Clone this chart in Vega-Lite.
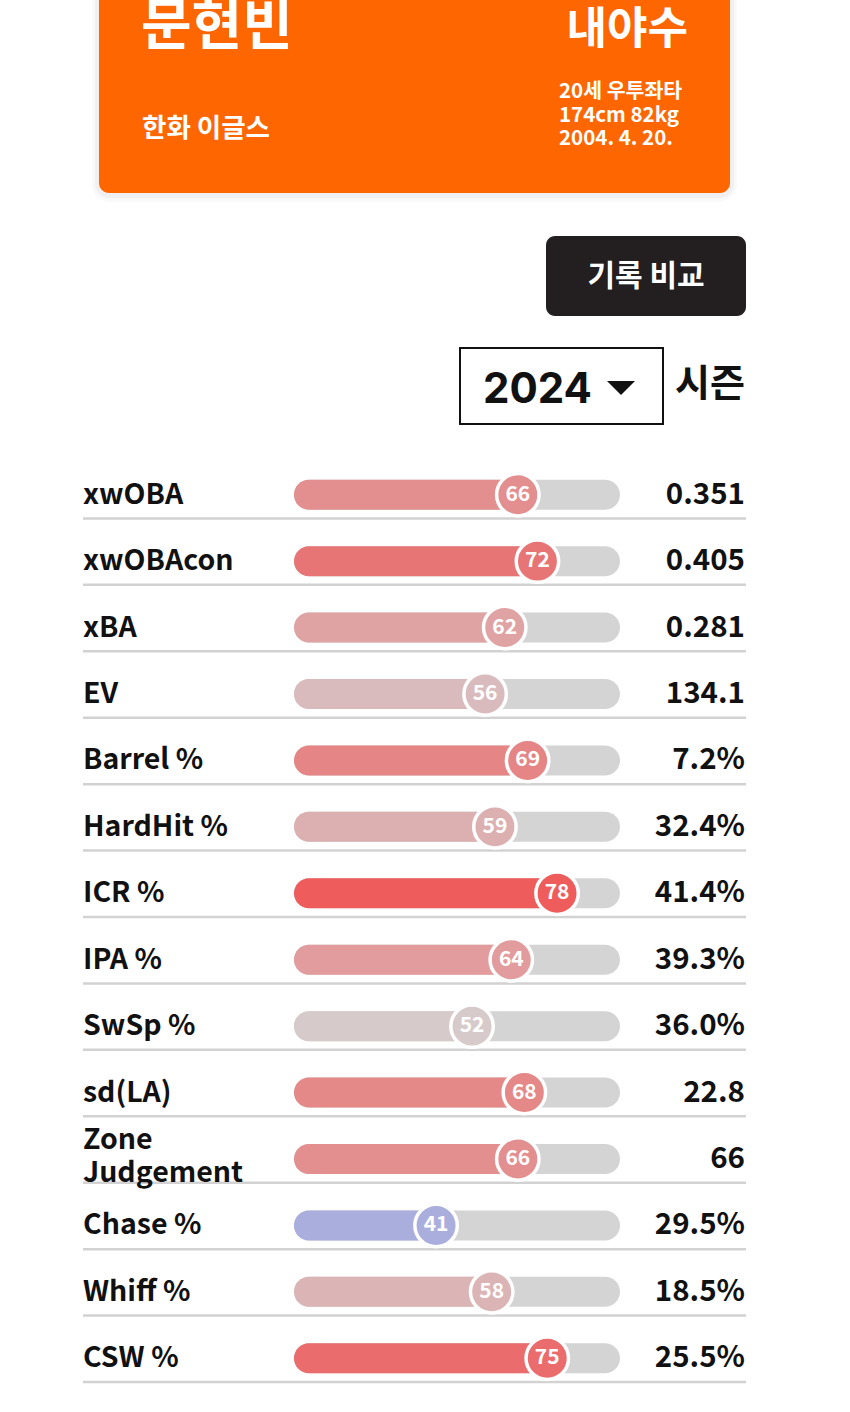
{
  "$schema": "https://vega.github.io/schema/vega-lite/v6.json",
  "background": "white",
  "padding": 0,
  "spacing": 0,
  "config": {"view": {"stroke": null}, "concat": {"spacing": 0}, "text": {"font": "Noto Sans CJK KR"}},
  "vconcat": [
    {
      "width": 850,
      "height": 452,
      "data": {"values": [{"name": "문현빈", "team": "한화 이글스", "position": "내야수", "info1": "20세 우투좌타", "info2": "174cm 82kg", "info3": "2004. 4. 20.", "button": "기록 비교", "season": "2024", "seasonLabel": "시즌"}]},
      "layer": [
        {"mark": {"type": "rect", "fill": "#000", "opacity": 0.025, "cornerRadius": 18, "clip": true},
         "encoding": {
           "x": {"datum": 92, "type": "quantitative", "scale": {"domain": [0, 850], "nice": false, "zero": false}, "axis": null},
           "x2": {"datum": 737},
           "y": {"datum": -20, "type": "quantitative", "scale": {"domain": [0, 452], "nice": false, "zero": false, "reverse": true}, "axis": null},
           "y2": {"datum": 202}}},
        {"mark": {"type": "rect", "fill": "#000", "opacity": 0.035, "cornerRadius": 14, "clip": true},
         "encoding": {"x": {"datum": 95, "type": "quantitative"}, "x2": {"datum": 734}, "y": {"datum": -20, "type": "quantitative"}, "y2": {"datum": 198}}},
        {"mark": {"type": "rect", "fill": "#FE6601", "cornerRadius": 10, "clip": true},
         "encoding": {"x": {"datum": 99, "type": "quantitative"}, "x2": {"datum": 730}, "y": {"datum": -20, "type": "quantitative"}, "y2": {"datum": 193}}},
        {"mark": {"type": "text", "fill": "white", "fontSize": 55, "fontWeight": "bold", "align": "left", "baseline": "middle", "clip": true},
         "encoding": {"text": {"field": "name", "type": "nominal"}, "x": {"datum": 141, "type": "quantitative"}, "y": {"datum": 27, "type": "quantitative"}}},
        {"mark": {"type": "text", "fill": "white", "fontSize": 26.5, "fontWeight": "bold", "align": "left", "baseline": "middle"},
         "encoding": {"text": {"field": "team", "type": "nominal"}, "x": {"datum": 142, "type": "quantitative"}, "y": {"datum": 129, "type": "quantitative"}}},
        {"mark": {"type": "text", "fill": "white", "fontSize": 44, "fontWeight": "bold", "align": "right", "baseline": "middle", "clip": true},
         "encoding": {"text": {"field": "position", "type": "nominal"}, "x": {"datum": 688, "type": "quantitative"}, "y": {"datum": 31, "type": "quantitative"}}},
        {"mark": {"type": "text", "fill": "white", "fontSize": 20.5, "fontWeight": "bold", "align": "left", "baseline": "middle"},
         "encoding": {"text": {"field": "info1", "type": "nominal"}, "x": {"datum": 559, "type": "quantitative"}, "y": {"datum": 92, "type": "quantitative"}}},
        {"mark": {"type": "text", "fill": "white", "fontSize": 20.5, "fontWeight": "bold", "align": "left", "baseline": "middle"},
         "encoding": {"text": {"field": "info2", "type": "nominal"}, "x": {"datum": 559, "type": "quantitative"}, "y": {"datum": 115.5, "type": "quantitative"}}},
        {"mark": {"type": "text", "fill": "white", "fontSize": 20.5, "fontWeight": "bold", "align": "left", "baseline": "middle"},
         "encoding": {"text": {"field": "info3", "type": "nominal"}, "x": {"datum": 559, "type": "quantitative"}, "y": {"datum": 139, "type": "quantitative"}}},
        {"mark": {"type": "rect", "fill": "#231F20", "cornerRadius": 9},
         "encoding": {"x": {"datum": 546, "type": "quantitative"}, "x2": {"datum": 746}, "y": {"datum": 236, "type": "quantitative"}, "y2": {"datum": 316}}},
        {"mark": {"type": "text", "fill": "white", "fontSize": 30, "fontWeight": "bold", "align": "center", "baseline": "middle"},
         "encoding": {"text": {"field": "button", "type": "nominal"}, "x": {"datum": 646, "type": "quantitative"}, "y": {"datum": 277, "type": "quantitative"}}},
        {"mark": {"type": "rect", "fill": "white", "stroke": "#111", "strokeWidth": 2},
         "encoding": {"x": {"datum": 460, "type": "quantitative"}, "x2": {"datum": 663}, "y": {"datum": 348, "type": "quantitative"}, "y2": {"datum": 424}}},
        {"mark": {"type": "text", "fill": "#111", "font": "Inter", "fontSize": 42, "fontWeight": "bold", "align": "left", "baseline": "middle"},
         "encoding": {"text": {"field": "season", "type": "nominal"}, "x": {"datum": 483, "type": "quantitative"}, "y": {"datum": 390, "type": "quantitative"}}},
        {"mark": {"type": "point", "shape": "M-1,-0.5L1,-0.5L0,0.5Z", "filled": true, "fill": "#111", "opacity": 1, "size": 784},
         "encoding": {"x": {"datum": 621, "type": "quantitative"}, "y": {"datum": 388, "type": "quantitative"}}},
        {"mark": {"type": "text", "fill": "#111", "fontSize": 38, "fontWeight": "bold", "align": "left", "baseline": "middle"},
         "encoding": {"text": {"field": "seasonLabel", "type": "nominal"}, "x": {"datum": 675, "type": "quantitative"}, "y": {"datum": 385, "type": "quantitative"}}}
      ]
    },
    {
      "width": 850,
      "height": 930,
      "data": {"values": [
        {"metric": "xwOBA", "label": "xwOBA", "pct": 66, "value": "0.351"},
        {"metric": "xwOBAcon", "label": "xwOBAcon", "pct": 72, "value": "0.405"},
        {"metric": "xBA", "label": "xBA", "pct": 62, "value": "0.281"},
        {"metric": "EV", "label": "EV", "pct": 56, "value": "134.1"},
        {"metric": "Barrel %", "label": "Barrel %", "pct": 69, "value": "7.2%"},
        {"metric": "HardHit %", "label": "HardHit %", "pct": 59, "value": "32.4%"},
        {"metric": "ICR %", "label": "ICR %", "pct": 78, "value": "41.4%"},
        {"metric": "IPA %", "label": "IPA %", "pct": 64, "value": "39.3%"},
        {"metric": "SwSp %", "label": "SwSp %", "pct": 52, "value": "36.0%"},
        {"metric": "sd(LA)", "label": "sd(LA)", "pct": 68, "value": "22.8"},
        {"metric": "Zone Judgement", "label": "Zone\nJudgement", "pct": 66, "value": "66"},
        {"metric": "Chase %", "label": "Chase %", "pct": 41, "value": "29.5%"},
        {"metric": "Whiff %", "label": "Whiff %", "pct": 58, "value": "18.5%"},
        {"metric": "CSW %", "label": "CSW %", "pct": 75, "value": "25.5%"}
      ]},
      "layer": [
        {"mark": {"type": "rule", "stroke": "#D2D2D2", "strokeWidth": 2.5, "yOffset": 33.2},
         "encoding": {
           "y": {"field": "metric", "type": "nominal", "sort": null, "scale": {"paddingInner": 0, "paddingOuter": 0}, "axis": null},
           "x": {"datum": -66.97, "type": "quantitative", "scale": {"domain": [-92.35, 167.58], "nice": false, "zero": false}, "axis": null},
           "x2": {"datum": 135.78}}},
        {"mark": {"type": "bar", "size": 30, "cornerRadius": 15, "fill": "#D4D4D4", "yOffset": 9.5},
         "encoding": {
           "y": {"field": "metric", "type": "nominal", "sort": null},
           "x": {"datum": 97.25, "type": "quantitative"}, "x2": {"datum": -2.45}}},
        {"mark": {"type": "bar", "size": 30, "cornerRadius": 15, "yOffset": 9.5},
         "encoding": {
           "y": {"field": "metric", "type": "nominal", "sort": null},
           "x": {"field": "pct", "type": "quantitative"}, "x2": {"datum": -2.45},
           "fill": {"field": "pct", "type": "quantitative", "legend": null,
             "scale": {"type": "linear", "interpolate": "rgb", "domain": [41, 52, 56, 59, 62, 64, 66, 69, 72, 75, 78], "range": ["#AAAEDD", "#D6CACB", "#DABBBD", "#DCB0B1", "#E0A3A4", "#E39C9D", "#E38E8F", "#E68585", "#E87575", "#EA6C6C", "#EE5C5C"]}}}},
        {"mark": {"type": "point", "shape": "circle", "filled": true, "size": 1800, "stroke": "white", "strokeWidth": 3.5, "opacity": 1, "strokeOpacity": 1, "yOffset": 9.5},
         "encoding": {
           "y": {"field": "metric", "type": "nominal", "sort": null},
           "x": {"field": "pct", "type": "quantitative"},
           "fill": {"field": "pct", "type": "quantitative", "legend": null}}},
        {"mark": {"type": "text", "fill": "white", "fontSize": 21, "fontWeight": "bold", "align": "center", "baseline": "middle", "yOffset": 9.5},
         "encoding": {
           "y": {"field": "metric", "type": "nominal", "sort": null},
           "x": {"field": "pct", "type": "quantitative"}, "text": {"field": "pct", "type": "quantitative"}}},
        {"transform": [{"filter": "indexof(datum.label, '\\n') < 0"}],
         "mark": {"type": "text", "fill": "#111", "fontSize": 28.5, "fontWeight": "bold", "align": "left", "baseline": "middle", "yOffset": 9.5},
         "encoding": {
           "y": {"field": "metric", "type": "nominal", "sort": null},
           "x": {"datum": -66.97, "type": "quantitative"}, "text": {"field": "label", "type": "nominal"}}},
        {"transform": [{"filter": "indexof(datum.label, '\\n') >= 0"}],
         "mark": {"type": "text", "fill": "#111", "fontSize": 28.5, "fontWeight": "bold", "align": "left", "baseline": "middle", "lineBreak": "\n", "lineHeight": 33, "yOffset": -9.5},
         "encoding": {
           "y": {"field": "metric", "type": "nominal", "sort": null},
           "x": {"datum": -66.97, "type": "quantitative"}, "text": {"field": "label", "type": "nominal"}}},
        {"mark": {"type": "text", "fill": "#111", "fontSize": 29.5, "fontWeight": "bold", "align": "right", "baseline": "middle", "yOffset": 9.5},
         "encoding": {
           "y": {"field": "metric", "type": "nominal", "sort": null},
           "x": {"datum": 135.47, "type": "quantitative"}, "text": {"field": "value", "type": "nominal"}}}
      ]
    }
  ]
}
